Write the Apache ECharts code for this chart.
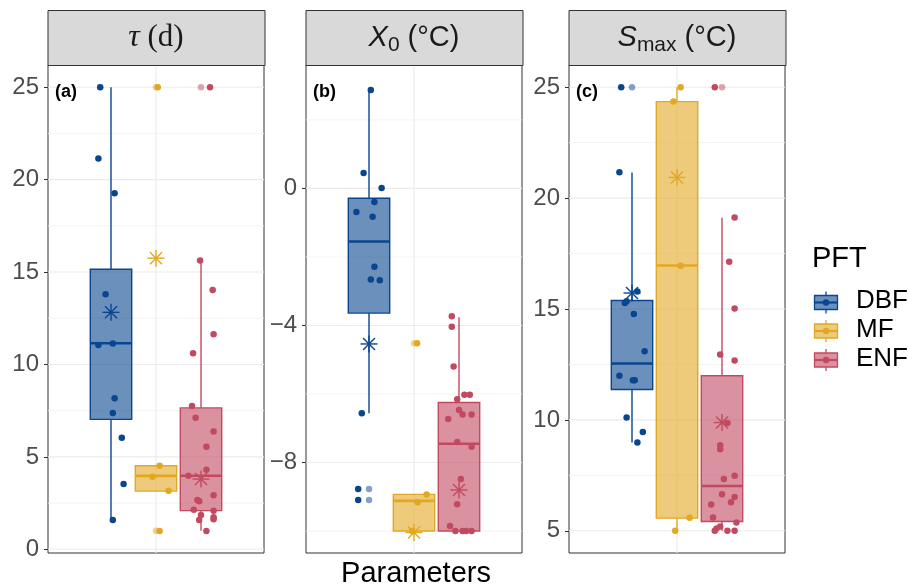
<!DOCTYPE html>
<html>
<head>
<meta charset="utf-8">
<script src="https://cdn.jsdelivr.net/npm/echarts@6.0.0/dist/echarts.min.js"></script>
<style>
  html, body { margin: 0; padding: 0; background: #fff; }
  #chart { width: 909px; height: 588px; }
</style>
</head>
<body>
<div id="chart"></div>
<script>
// Grupos PFT
const pftNames = ["DBF", "MF", "ENF"];
const dodgeX = [-0.25, 0, 0.25];

// (a) tau (d)
const tauTicks = [0, 5, 10, 15, 20, 25];
const tauMinor = [2.5, 7.5, 12.5, 17.5, 22.5];
// [bigote inf, q1, mediana, q3, bigote sup]
const tauBoxes = [
  [1.59, 7.03, 11.15, 15.15, 25],
  [3.15, 3.15, 3.97, 4.52, 4.52],
  [1.0, 2.09, 3.98, 7.65, 15.65],
];
const tauMeans = [12.82, 15.75, 3.8];
const tauOutliers = [[], [25, 1], [25]];
const tauPoints = [
  [25, 21.14, 19.26, 13.8, 11.05, 11.13, 8.17, 7.38, 6.04, 3.53, 1.59],
  [25, 4.52, 3.93, 3.17, 0.99],
  [25, 15.62, 14.03, 11.63, 10.6, 7.75, 7.12, 6.37, 5.55, 4.31, 3.98, 2.92, 2.67, 2.6, 2.14, 2.09, 1.86, 1.59, 1.73, 1.62, 0.99],
];
const tauJitter = [
  [-0.31, -0.32, -0.23, -0.28, -0.32, -0.24, -0.23, -0.24, -0.19, -0.18, -0.24],
  [0.01, 0.02, -0.02, 0.07, 0.02],
  [0.30, 0.245, 0.315, 0.32, 0.206, 0.20, 0.22, 0.32, 0.28, 0.28, 0.18, 0.32, 0.23, 0.24, 0.21, 0.32, 0.25, 0.24, 0.32, 0.32, 0.28],
];

// (b) X0 (°C)
const x0Ticks = [-8, -4, 0];
const x0Minor = [-10, -6, -2, 2];
const x0Boxes = [
  [-6.56, -3.64, -1.55, -0.29, 2.87],
  [-10.0, -10.0, -9.12, -8.93, -8.93],
  [-10.0, -10.0, -7.45, -6.25, -3.76],
];
const x0Means = [-4.54, -10.04, -8.8];
const x0Outliers = [[-8.77, -9.09], [-4.52], []];
const x0Points = [
  [2.87, 0.45, 0.01, -0.40, -0.69, -0.83, -2.29, -2.66, -2.68, -6.56, -8.77, -9.09],
  [-4.52, -8.93, -9.16, -10.0],
  [-3.73, -4.04, -5.20, -6.15, -6.02, -6.02, -6.73, -6.47, -6.6, -6.6, -7.40, -7.54, -8.48, -9.22, -9.85, -10, -10, -10, -10],
];
const x0Jitter = [
  [-0.24, -0.28, -0.18, -0.22, -0.32, -0.23, -0.22, -0.24, -0.19, -0.29, -0.31, -0.31],
  [0.017, 0.07, 0.02, -0.01],
  [0.21, 0.21, 0.22, 0.24, 0.28, 0.31, 0.19, 0.25, 0.27, 0.32, 0.24, 0.32, 0.26, 0.24, 0.20, 0.23, 0.27, 0.29, 0.32],
];

// (c) Smax (°C)
const smaxTicks = [5, 10, 15, 20, 25];
const smaxMinor = [7.5, 12.5, 17.5, 22.5];
const smaxBoxes = [
  [8.98, 11.37, 12.54, 15.38, 21.15],
  [5.0, 5.57, 16.96, 24.35, 25],
  [5.0, 5.42, 7.02, 11.99, 19.11],
];
const smaxMeans = [15.72, 20.93, 9.88];
const smaxOutliers = [[25], [], [25]];
const smaxPoints = [
  [25, 21.17, 15.79, 15.27, 15.35, 14.78, 13.1, 11.99, 11.79, 11.79, 10.11, 9.45, 8.98],
  [25, 24.35, 16.95, 5.59, 5.0],
  [25, 19.13, 17.13, 15.02, 12.95, 12.68, 9.86, 8.86, 8.68, 7.48, 7.34, 6.65, 6.19, 6.29, 6.53, 5.6, 5.37, 5.0, 5.1, 5.2, 5.0, 5.0],
];
const smaxJitter = [
  [-0.31, -0.32, -0.22, -0.29, -0.28, -0.24, -0.18, -0.32, -0.245, -0.235, -0.28, -0.19, -0.22],
  [0.02, -0.02, 0.02, 0.07, -0.01],
  [0.21, 0.32, 0.29, 0.32, 0.24, 0.32, 0.28, 0.24, 0.24, 0.32, 0.26, 0.25, 0.19, 0.30, 0.32, 0.2, 0.33, 0.21, 0.22, 0.24, 0.28, 0.32],
];

// Estilos
const pftColors = ["#0A4690", "#E2A823", "#C24A60"];
const pftFills = ["rgba(10,70,144,0.6)", "rgba(226,168,35,0.6)", "rgba(194,74,96,0.6)"];
const boxHalf = 0.115;
const fontSans = "'Liberation Sans', Arial, sans-serif";

const panels = [
  { left: 48, min: -0.2, max: 26.2, ticks: tauTicks, minor: tauMinor, boxes: tauBoxes, means: tauMeans, outliers: tauOutliers, points: tauPoints, jitter: tauJitter, tag: "(a)" },
  { left: 306, min: -10.64, max: 3.6, ticks: x0Ticks, minor: x0Minor, boxes: x0Boxes, means: x0Means, outliers: x0Outliers, points: x0Points, jitter: x0Jitter, tag: "(b)" },
  { left: 569, min: 4, max: 26, ticks: smaxTicks, minor: smaxMinor, boxes: smaxBoxes, means: smaxMeans, outliers: smaxOutliers, points: smaxPoints, jitter: smaxJitter, tag: "(c)" },
];
const panelW = 216, panelTop = 65, panelH = 488, stripTop = 10;

function renderGridLines(params, api) {
  const cs = params.coordSys;
  const v = api.value(0);
  const kind = api.value(1);
  if (kind === 2) {
    const x = api.coord([v, 0])[0];
    return { type: "line", shape: { x1: x, y1: cs.y, x2: x, y2: cs.y + cs.height },
      style: { stroke: "#EBEBEB", lineWidth: 1.1 }, silent: true };
  }
  const y = api.coord([0, v])[1];
  return { type: "line", shape: { x1: cs.x, y1: y, x2: cs.x + cs.width, y2: y },
    style: { stroke: kind === 0 ? "#EBEBEB" : "#F3F3F3", lineWidth: kind === 0 ? 1.1 : 0.9 }, silent: true };
}

function renderBox(params, api) {
  const x = api.value(0);
  const k = api.value(6);
  const lo = api.coord([x, api.value(1)]);
  const q1 = api.coord([x - boxHalf, api.value(2)]);
  const med = api.coord([x + boxHalf, api.value(3)]);
  const q3 = api.coord([x + boxHalf, api.value(4)]);
  const hi = api.coord([x, api.value(5)]);
  const xl = q1[0], xr = q3[0];
  const col = pftColors[k];
  return {
    type: "group",
    children: [
      { type: "line", shape: { x1: lo[0], y1: lo[1], x2: lo[0], y2: q1[1] }, style: { stroke: col, lineWidth: 1.4 } },
      { type: "line", shape: { x1: hi[0], y1: hi[1], x2: hi[0], y2: q3[1] }, style: { stroke: col, lineWidth: 1.4 } },
      { type: "rect", shape: { x: xl, y: q3[1], width: xr - xl, height: q1[1] - q3[1] },
        style: { fill: pftFills[k], stroke: col, lineWidth: 1.4 } },
      { type: "line", shape: { x1: xl, y1: med[1], x2: xr, y2: med[1] }, style: { stroke: col, lineWidth: 2.6 } },
    ],
  };
}

function renderMean(params, api) {
  const c = api.coord([api.value(0), api.value(1)]);
  const col = pftColors[api.value(2)];
  const r = 8.5, d = r * 0.7071;
  const st = { stroke: col, lineWidth: 1.4 };
  return {
    type: "group",
    children: [
      { type: "line", shape: { x1: c[0], y1: c[1] - r, x2: c[0], y2: c[1] + r }, style: st },
      { type: "line", shape: { x1: c[0] - r, y1: c[1], x2: c[0] + r, y2: c[1] }, style: st },
      { type: "line", shape: { x1: c[0] - d, y1: c[1] - d, x2: c[0] + d, y2: c[1] + d }, style: st },
      { type: "line", shape: { x1: c[0] - d, y1: c[1] + d, x2: c[0] + d, y2: c[1] - d }, style: st },
    ],
  };
}

const grids = [], xAxes = [], yAxes = [], series = [], graphics = [];

panels.forEach((p, i) => {
  grids.push({ left: p.left, top: panelTop, width: panelW, height: panelH, show: true,
    borderColor: "#333333", borderWidth: 1, backgroundColor: "#fff" });
  xAxes.push({ gridIndex: i, type: "value", min: -0.6, max: 0.6, show: false,
    axisLine: { show: false, onZero: false } });
  yAxes.push({
    gridIndex: i, type: "value", position: "left", min: p.min, max: p.max,
    axisLine: { show: false, onZero: false },
    axisTick: { show: true, customValues: p.ticks, length: 4, lineStyle: { color: "#333333", width: 1 } },
    axisLabel: { customValues: p.ticks, fontSize: 24, color: "#4D4D4D", fontFamily: fontSans, margin: 9,
      formatter: (v) => String(v).replace("-", "\u2212") },
    splitLine: { show: false },
  });

  const gl = [];
  p.ticks.forEach((v) => gl.push([v, 0]));
  p.minor.forEach((v) => gl.push([v, 1]));
  gl.push([0, 2]);
  series.push({ type: "custom", xAxisIndex: i, yAxisIndex: i, z: 1, silent: true,
    renderItem: renderGridLines, data: gl });

  series.push({ type: "custom", xAxisIndex: i, yAxisIndex: i, z: 2, silent: true,
    renderItem: renderBox,
    data: p.boxes.map((b, k) => [dodgeX[k], b[0], b[1], b[2], b[3], b[4], k]) });

  const outl = [];
  p.outliers.forEach((arr, k) => arr.forEach((v) => outl.push([dodgeX[k], v, k])));
  series.push({ type: "scatter", xAxisIndex: i, yAxisIndex: i, z: 3, silent: true, symbolSize: 6.5,
    itemStyle: { color: (q) => pftColors[q.data[2]], opacity: 0.5 }, data: outl });

  const pts = [];
  p.points.forEach((arr, k) => arr.forEach((v, j) => pts.push([p.jitter[k][j], v, k])));
  series.push({ type: "scatter", xAxisIndex: i, yAxisIndex: i, z: 4, silent: true, symbolSize: 6.5,
    itemStyle: { color: (q) => pftColors[q.data[2]], opacity: 1 }, data: pts });

  series.push({ type: "custom", xAxisIndex: i, yAxisIndex: i, z: 5, silent: true,
    renderItem: renderMean, data: p.means.map((m, k) => [dodgeX[k], m, k]) });

  // franja del titulo
  graphics.push({ type: "rect", left: p.left - 0.5, top: stripTop,
    shape: { width: panelW + 1, height: panelTop - stripTop },
    style: { fill: "#D9D9D9", stroke: "#333333", lineWidth: 1 }, z: 10 });
  graphics.push({ type: "text", x: p.left + 7, y: 92, z: 10,
    style: { text: p.tag, font: "bold 18px " + fontSans, fill: "#000", verticalAlign: "middle" } });
});

// Titulos de las franjas
const stripTitles = [
  { text: "{g|\u03c4}{n| (d)}", rich: {
      g: { fontFamily: "'Liberation Serif', serif", fontStyle: "italic", fontSize: 32, lineHeight: 36 },
      n: { fontFamily: "'Liberation Serif', serif", fontSize: 31, lineHeight: 36 } } },
  { text: "{i|X}{s|0}{n| (\u00b0C)}", rich: {
      i: { fontFamily: fontSans, fontStyle: "italic", fontSize: 29, lineHeight: 36 },
      s: { fontFamily: fontSans, fontSize: 21, lineHeight: 18, verticalAlign: "bottom" },
      n: { fontFamily: fontSans, fontSize: 29, lineHeight: 36 } } },
  { text: "{i|S}{s|max}{n| (\u00b0C)}", rich: {
      i: { fontFamily: fontSans, fontStyle: "italic", fontSize: 29, lineHeight: 36 },
      s: { fontFamily: fontSans, fontSize: 21, lineHeight: 18, verticalAlign: "bottom" },
      n: { fontFamily: fontSans, fontSize: 29, lineHeight: 36 } } },
];
stripTitles.forEach((t, i) => {
  graphics.push({ type: "text", x: panels[i].left + panelW / 2, y: 38, z: 11,
    style: { text: t.text, rich: t.rich, fill: "#1A1A1A", align: "center", verticalAlign: "middle" } });
});

// Titulo del eje x
graphics.push({ type: "text", x: 416, y: 574, z: 11,
  style: { text: "Parameters", font: "29px " + fontSans, fill: "#000", align: "center", verticalAlign: "middle" } });

// Leyenda
graphics.push({ type: "text", x: 812, y: 259, z: 11,
  style: { text: "PFT", font: "29px " + fontSans, fill: "#000", verticalAlign: "middle" } });
const keyY = [302.5, 331, 360];
pftNames.forEach((name, k) => {
  const y = keyY[k];
  graphics.push({ type: "group", z: 11, children: [
    { type: "line", shape: { x1: 826, y1: y - 11, x2: 826, y2: y + 11 }, style: { stroke: pftColors[k], lineWidth: 1.3 } },
    { type: "rect", shape: { x: 814.5, y: y - 7, width: 23, height: 14 }, style: { fill: "#fff", stroke: null } },
    { type: "rect", shape: { x: 814.5, y: y - 7, width: 23, height: 14 }, style: { fill: pftFills[k], stroke: pftColors[k], lineWidth: 1.3 } },
    { type: "line", shape: { x1: 814.5, y1: y, x2: 837.5, y2: y }, style: { stroke: pftColors[k], lineWidth: 2.2 } },
    { type: "circle", shape: { cx: 826, cy: y, r: 3.2 }, style: { fill: pftColors[k] } },
  ] });
  graphics.push({ type: "text", x: 856, y: y - 1.5, z: 11,
    style: { text: name, font: "26px " + fontSans, fill: "#000", verticalAlign: "middle" } });
});

const chart = echarts.init(document.getElementById("chart"), null, { renderer: "canvas" });
chart.setOption({
  animation: false,
  backgroundColor: "#fff",
  grid: grids,
  xAxis: xAxes,
  yAxis: yAxes,
  series: series,
  graphic: graphics,
});
window.addEventListener("resize", () => chart.resize());
</script>
</body>
</html>
